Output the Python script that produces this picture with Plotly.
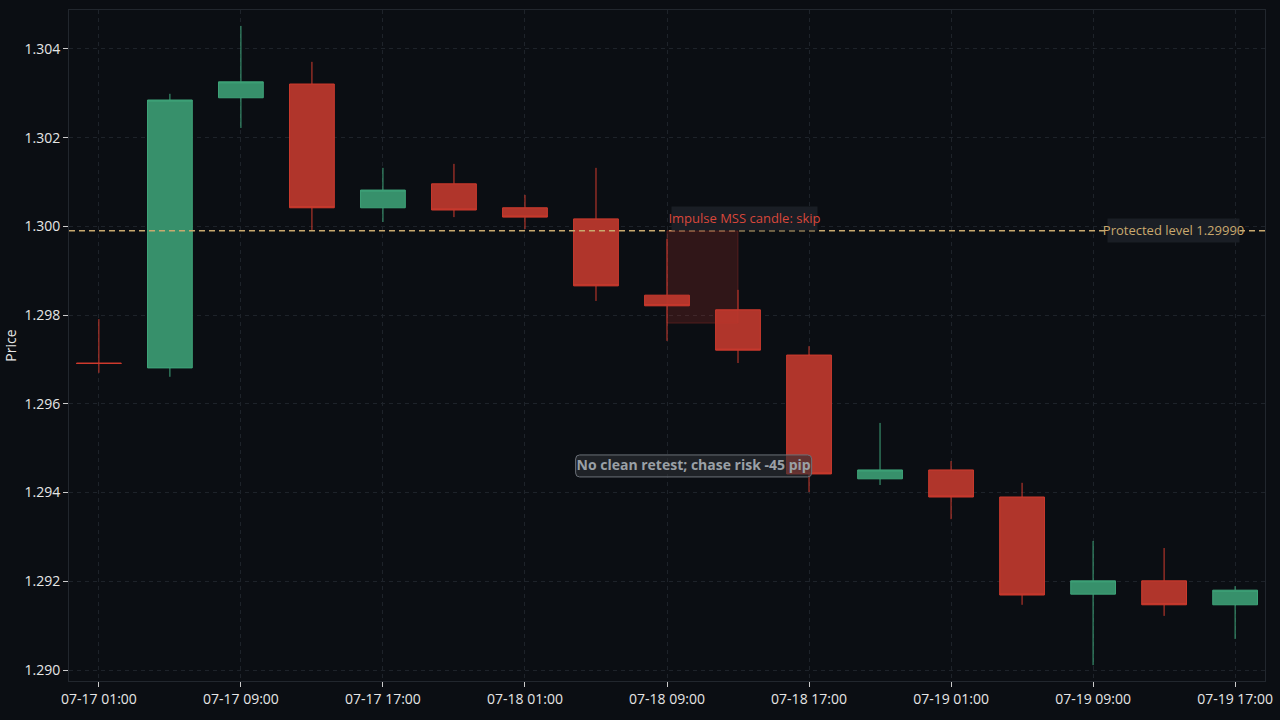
import plotly.graph_objects as go
import pandas as pd

times = pd.date_range("2024-07-17 01:00", periods=17, freq="4h")
opens = [1.29692, 1.29681, 1.30290, 1.30321, 1.30042, 1.30096, 1.30042, 1.30017, 1.29845,
         1.29812, 1.29710, 1.29431, 1.29451, 1.29390, 1.29171, 1.29201, 1.29147]
highs = [1.29791, 1.30299, 1.30452, 1.30371, 1.30132, 1.30141, 1.30071, 1.30132, 1.29972,
         1.29857, 1.29730, 1.29557, 1.29471, 1.29422, 1.29291, 1.29275, 1.29189]
lows = [1.29670, 1.29661, 1.30222, 1.29992, 1.30010, 1.30021, 1.29994, 1.29832, 1.29742,
        1.29692, 1.29401, 1.29417, 1.29340, 1.29147, 1.29011, 1.29122, 1.29070]
closes = [1.29691, 1.30285, 1.30326, 1.30042, 1.30082, 1.30037, 1.30021, 1.29866, 1.29821,
          1.29721, 1.29442, 1.29451, 1.29390, 1.29169, 1.29201, 1.29147, 1.29180]

protected_level = 1.29990
rect_low = 1.29782
skip_idx = 8
note_time = pd.Timestamp("2024-07-18 10:30")
note_price = 1.29460
note_text = "No clean retest; chase risk -45 pip"

BG = "#0b0e13"
GREEN = "#37906b"
RED = "#b0352b"
GOLD = "#c9a96e"
GRID = "#1e232a"
FONT = "Source Sans Pro, Source Sans 3, Roboto, sans-serif"

fig = go.Figure()
fig.add_trace(go.Candlestick(
    x=times, open=opens, high=highs, low=lows, close=closes,
    increasing=dict(line=dict(color="#3fa57a", width=1), fillcolor=GREEN),
    decreasing=dict(line=dict(color="#cf3b2e", width=1), fillcolor=RED),
    whiskerwidth=0, showlegend=False,
))

fig.add_shape(type="line", xref="paper", x0=0, x1=1, y0=protected_level, y1=protected_level,
              line=dict(color=GOLD, width=1.5, dash="6px,4px"))
fig.add_shape(type="rect", x0=times[skip_idx], x1=times[skip_idx + 1], y0=rect_low, y1=protected_level,
              fillcolor="rgba(200,55,45,0.2)", line=dict(color="rgba(200,55,45,0.3)", width=1), layer="above")

# rounded box behind the note
w, h, r = 236, 22, 4
path = (f"M {-w/2+r},{-h/2} L {w/2-r},{-h/2} Q {w/2},{-h/2} {w/2},{-h/2+r} "
        f"L {w/2},{h/2-r} Q {w/2},{h/2} {w/2-r},{h/2} L {-w/2+r},{h/2} "
        f"Q {-w/2},{h/2} {-w/2},{h/2-r} L {-w/2},{-h/2+r} Q {-w/2},{-h/2} {-w/2+r},{-h/2} Z")
fig.add_shape(type="path", xsizemode="pixel", ysizemode="pixel", xanchor=note_time, yanchor=note_price,
              path=path, fillcolor="rgba(45,48,54,0.6)", line=dict(color="#6b7078", width=1), layer="above")

fig.add_annotation(x=times[-1], y=protected_level, text="Protected level 1.29990", showarrow=False,
                   xanchor="right", yanchor="middle", xshift=5,
                   font=dict(color=GOLD, size=13, family=FONT), bgcolor="#1a1e25", borderpad=4)
fig.add_annotation(x=times[skip_idx], y=protected_level, text="Impulse MSS candle: skip", showarrow=False,
                   xanchor="left", yanchor="bottom", xshift=4, yshift=0,
                   font=dict(color="#d8473b", size=13, family=FONT), bgcolor="#1a1e25", borderpad=4)
fig.add_annotation(x=note_time, y=note_price, text=f"<b>{note_text}</b>", showarrow=False,
                   xanchor="center", yanchor="middle",
                   font=dict(color="#9aa0a6", size=14, family=FONT))

fig.update_layout(
    width=1280, height=720,
    paper_bgcolor=BG, plot_bgcolor=BG,
    margin=dict(l=69, r=15, t=10, b=39),
    font=dict(family=FONT, color="#e6e6e6", size=14),
    showlegend=False,
    boxgap=0.1,
    xaxis=dict(
        rangeslider=dict(visible=False),
        range=[times[0] - pd.Timedelta(minutes=101), times[-1] + pd.Timedelta(minutes=101)],
        tick0=times[0], dtick=8 * 3600 * 1000, tickformat="%m-%d %H:%M",
        showgrid=True, gridcolor=GRID, griddash="4px,4px", gridwidth=1,
        showline=True, linecolor="#22272e", mirror=True, zeroline=False,
        ticks="outside", ticklen=5, tickcolor="#cccccc",
        tickfont=dict(size=14, color="#e6e6e6"),
    ),
    yaxis=dict(
        range=[1.289752, 1.304879],
        dtick=0.002, tick0=1.290, tickformat=".3f",
        showgrid=True, gridcolor=GRID, griddash="4px,4px", gridwidth=1,
        showline=True, linecolor="#22272e", mirror=True, zeroline=False,
        ticks="outside", ticklen=5, tickcolor="#cccccc",
        tickfont=dict(size=14, color="#e6e6e6"),
        title=dict(text="Price", font=dict(size=14, color="#e6e6e6"), standoff=8),
    ),
)

fig.write_html("out.html")
